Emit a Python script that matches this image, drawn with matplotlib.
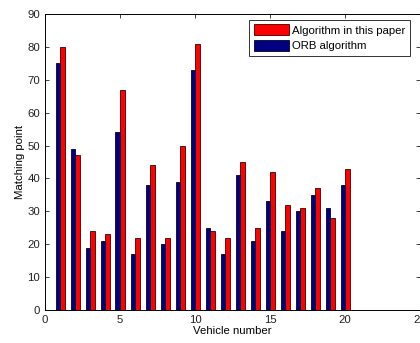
import matplotlib
matplotlib.use("Agg")
import matplotlib.pyplot as plt
import numpy as np

plt.rcParams['font.family'] = ['Liberation Sans', 'DejaVu Sans']

# vehicle index and matching points per method
vehicles = np.arange(1, 21)
orb = [75, 49, 19, 21, 54, 17, 38, 20, 39, 73, 25, 17, 41, 21, 33, 24, 30, 35, 31, 38]
ours = [80, 47, 24, 23, 67, 22, 44, 22, 50, 81, 24, 22, 45, 25, 42, 32, 31, 37, 28, 43]

fig = plt.figure(figsize=(4.2, 3.43), dpi=100)
ax = fig.add_axes([45/420, 1 - 310/343, 375/420, 296/343])

w = 0.3
b_ours = ax.bar(vehicles + w/2, ours, w, color='#ff0000', edgecolor='#400000', linewidth=0.6,
                label='Algorithm in this paper')
b_orb = ax.bar(vehicles - w/2, orb, w, color='#000080', edgecolor='#000030', linewidth=0.6,
               label='ORB algorithm')

ax.set_xlim(0, 25)
ax.set_ylim(0, 90)
ax.set_xticks([0, 5, 10, 15, 20, 25])
ax.set_yticks(range(0, 91, 10))
ax.tick_params(direction='in', top=True, right=True, length=3, labelsize=8.2,
               colors='#222222', width=0.6)
for s in ax.spines.values():
    s.set_linewidth(0.7)

ax.set_xlabel('Vehicle number', fontsize=8.2, labelpad=1)
ax.set_ylabel('Matching point', fontsize=8.2, labelpad=2)

leg = ax.legend(handles=[b_ours, b_orb], loc='upper left', bbox_to_anchor=(204/375, 0.98),
                fontsize=8.2, frameon=True, fancybox=False, borderpad=0.4,
                handlelength=3.1, handleheight=1.05, handletextpad=0.25, labelspacing=0.4,
                borderaxespad=0)
leg.get_frame().set_edgecolor('black')
leg.get_frame().set_linewidth(0.7)

fig.savefig('out.png', dpi=100)
